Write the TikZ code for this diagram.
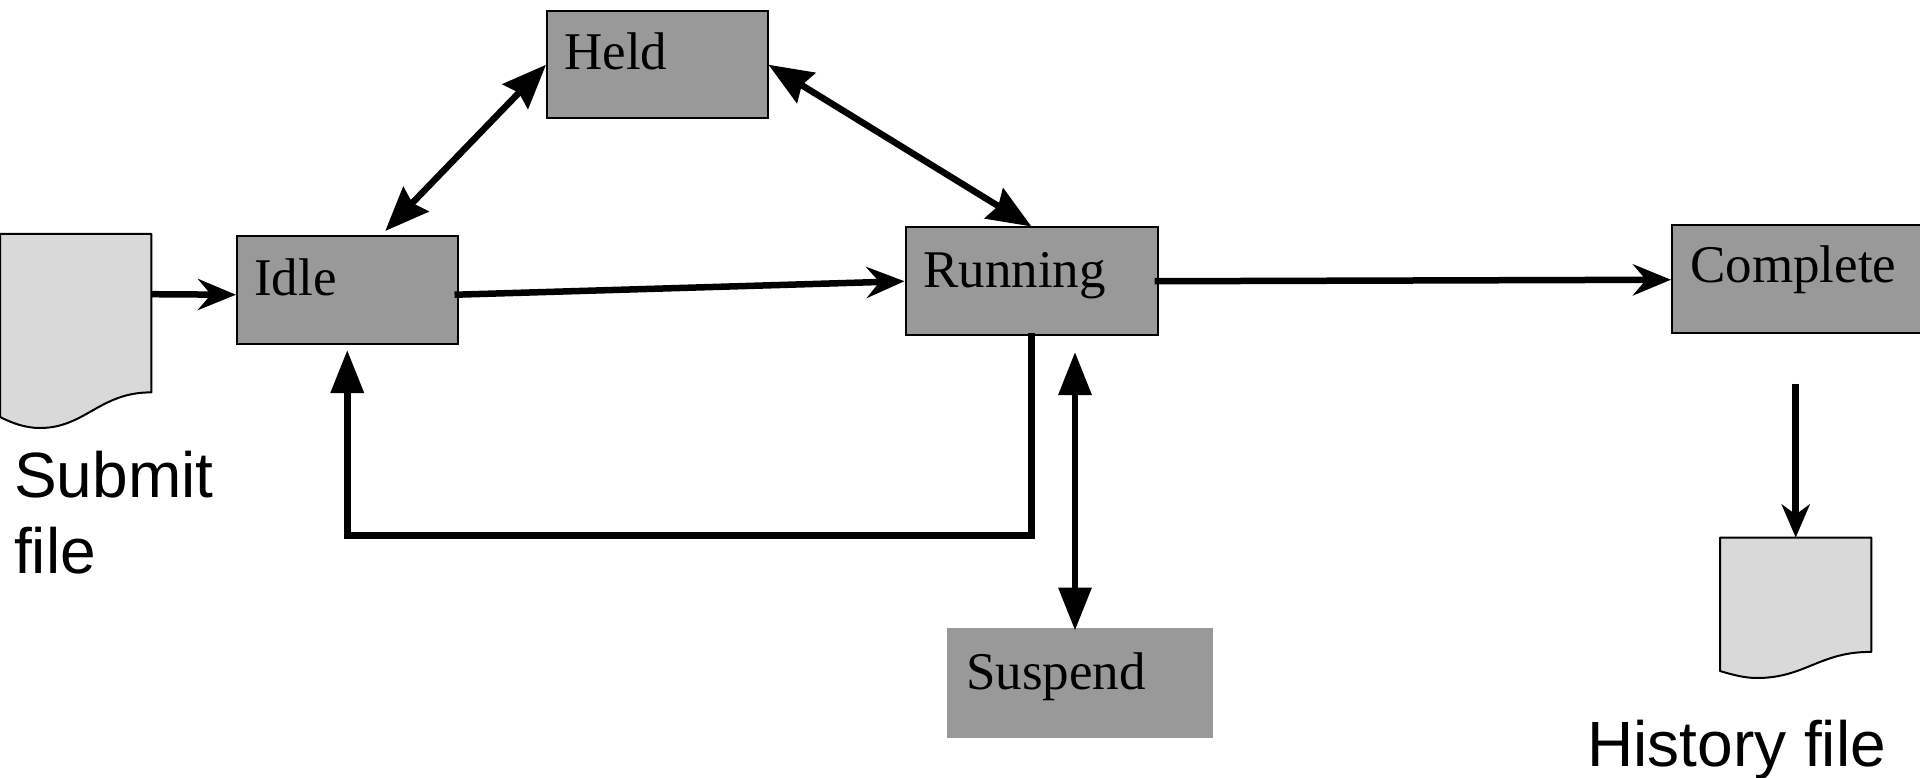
\documentclass[tikz,border=0pt]{standalone}
\usepackage{fontspec}
\setmainfont{Liberation Serif}
\newfontfamily\labelsans{Liberation Sans}
\usetikzlibrary{arrows.meta}
\tikzset{
  x=1pt,y=-1pt,
  statebox/.style={draw=black,line width=2pt,fill=boxgray,rectangle,inner sep=0pt,anchor=north west},
  statetext/.style={anchor=base west,inner sep=0pt,font=\fontsize{53}{60}\selectfont,text=black},
  filetext/.style={anchor=base west,inner sep=0pt,font=\labelsans\fontsize{64}{70}\selectfont},
  docshape/.style={draw=black,line width=2pt,fill=docgray,line join=round},
  docarea/.style={rectangle,inner sep=0pt,anchor=north west},
  thin head/.style={line width=6.5pt,-{Stealth[length=38pt,width=31pt,inset=13pt]}},
  solid head/.style={line width=6.5pt,{Triangle[length=43pt,width=32pt]}-{Triangle[length=43pt,width=32pt]}},
  diag head/.style={line width=6.5pt,{Stealth[length=44pt,width=35pt,inset=5pt]}-{Stealth[length=44pt,width=35pt,inset=5pt]}},
}
\definecolor{boxgray}{HTML}{999999}
\definecolor{docgray}{HTML}{D9D9D9}
\begin{document}
\begin{tikzpicture}
\useasboundingbox (0,0) rectangle (1920,778);
% documents
\node[docarea,minimum width=151pt,minimum height=158pt] (submit) at (0,234) {};
\draw[docshape] (submit.north west) -- (submit.north east) -- (submit.south east)
  .. controls (100,392) and (85,428) .. (40,428)
  .. controls (25,428) and (12,423) .. (0,417) -- cycle;
\node[docarea,minimum width=151pt,minimum height=114pt] (history) at (1720,537.5) {};
\draw[docshape] (history.north west) -- (history.north east) -- (history.south east)
  .. controls (1820,651.5) and (1805,678) .. (1757,678)
  .. controls (1745,678) and (1733,675) .. (1720,671) -- cycle;
% state boxes
\node[statebox,minimum width=220.5pt,minimum height=107.5pt] (idle) at (236,235) {};
\node[statebox,minimum width=220.5pt,minimum height=107.5pt] (held) at (546,10) {};
\node[statebox,minimum width=252pt,minimum height=107.5pt] (running) at (904.5,226.5) {};
\node[statebox,minimum width=249pt,minimum height=107.5pt] (complete) at (1671,224) {};
\node[statebox,draw=boxgray,line width=1pt,minimum width=265.5pt,minimum height=109.5pt] (suspend) at (946.5,627.5) {};
% labels
\node[statetext] (idletext) at (254,295) {Idle};
\node[statetext] (heldtext) at (564,70) {Held};
\node[statetext] (runningtext) at (923,287.5) {Running};
\node[statetext] (completetext) at (1690,283) {Complete};
\node[statetext] (suspendtext) at (966,689) {Suspend};
\node[filetext] (submittext1) at (14,497) {Submit};
\node[filetext] (submittext2) at (14,573) {file};
\node[filetext] (historytext) at (1587,766) {History file};
% connectors
\draw[thin head] ([yshift=19pt]submit.east) -- ([yshift=-5pt]idle.west);
\draw[thin head] ([xshift=-4pt,yshift=-5pt]idle.east) -- ([yshift=0pt]running.west);
\draw[thin head] ([xshift=-4pt]running.east) -- ([yshift=-1pt]complete.west);
\coordinate (histtail) at ([yshift=-50pt]complete.south);
\draw[line width=6.5pt,-{Stealth[length=33pt,width=28pt,inset=10pt]}] (history.north |- histtail) -- (history.north);
\draw[diag head] ([xshift=38pt,yshift=4pt]idle.north) -- (held.west);
\draw[diag head] (held.east) -- (running.north);
\coordinate (loopy) at (0,535.5);
\coordinate (corner) at (idle.south |- loopy);
\draw[line width=6.5pt,line join=miter,-{Triangle[length=43pt,width=32pt]}] ([yshift=3pt]running.south) |- (corner) -- ([yshift=-5.5pt]idle.south);
\coordinate (susptop) at ([xshift=43.5pt,yshift=-16pt]running.south);
\coordinate (suspbot) at ([yshift=-3pt]suspend.north);
\draw[solid head] (susptop) -- (susptop |- suspbot);
\end{tikzpicture}
\end{document}
